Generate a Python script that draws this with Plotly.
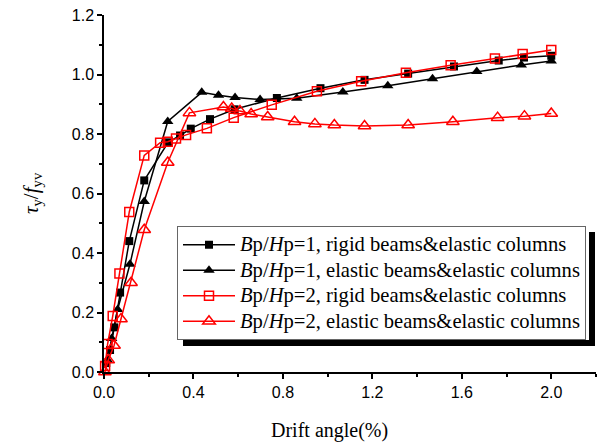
import plotly.graph_objects as go

# Bp/Hp=1, rigid beams & elastic columns (black filled squares)
x_sq1 = [0.01, 0.027, 0.046, 0.072, 0.113, 0.18, 0.287, 0.34, 0.388, 0.474, 0.584, 0.773, 0.968, 1.165, 1.36, 1.565, 1.765, 1.878, 2.0]
y_sq1 = [0.03, 0.074, 0.15, 0.267, 0.44, 0.644, 0.772, 0.795, 0.818, 0.85, 0.883, 0.921, 0.954, 0.982, 1.003, 1.027, 1.047, 1.057, 1.063]

# Bp/Hp=1, elastic beams & elastic columns (black filled triangles)
x_tr1 = [0.015, 0.034, 0.061, 0.116, 0.18, 0.285, 0.437, 0.512, 0.586, 0.698, 0.862, 1.068, 1.269, 1.469, 1.667, 1.866, 2.0]
y_tr1 = [0.04, 0.113, 0.21, 0.362, 0.573, 0.842, 0.94, 0.93, 0.923, 0.916, 0.92, 0.941, 0.962, 0.986, 1.01, 1.032, 1.045]

# Bp/Hp=2, rigid beams & elastic columns (red open squares)
x_sq2 = [0.005, 0.016, 0.039, 0.069, 0.113, 0.18, 0.251, 0.285, 0.322, 0.367, 0.46, 0.58, 0.75, 0.952, 1.15, 1.35, 1.55, 1.748, 1.872, 2.0]
y_sq2 = [0.02, 0.094, 0.188, 0.331, 0.538, 0.728, 0.771, 0.774, 0.785, 0.797, 0.819, 0.855, 0.898, 0.944, 0.977, 1.006, 1.031, 1.054, 1.069, 1.082]

# Bp/Hp=2, elastic beams & elastic columns (red open triangles)
x_tr2 = [0.004, 0.019, 0.045, 0.076, 0.121, 0.18, 0.285, 0.382, 0.534, 0.571, 0.608, 0.658, 0.732, 0.852, 0.943, 1.03, 1.165, 1.36, 1.56, 1.76, 1.88, 2.0]
y_tr2 = [0.0, 0.04, 0.089, 0.178, 0.30, 0.478, 0.704, 0.871, 0.891, 0.886, 0.877, 0.867, 0.857, 0.841, 0.834, 0.830, 0.827, 0.830, 0.841, 0.855, 0.860, 0.869]

legend_labels = [
    "<i>B</i>p/<i>H</i>p=1, rigid beams&elastic columns",
    "<i>B</i>p/<i>H</i>p=1, elastic beams&elastic columns",
    "<i>B</i>p/<i>H</i>p=2, rigid beams&elastic columns",
    "<i>B</i>p/<i>H</i>p=2, elastic beams&elastic columns",
]
names = ['<span style="font-size:20.6px">' + s + '</span>' for s in legend_labels]

RED = "#FF0000"
fig = go.Figure()
fig.add_trace(go.Scatter(x=x_sq1, y=y_sq1, name=names[0], mode="lines+markers",
                         line=dict(color="black", width=1.5),
                         marker=dict(symbol="square", size=8, color="black"), cliponaxis=False))
fig.add_trace(go.Scatter(x=x_tr1, y=y_tr1, name=names[1], mode="lines+markers",
                         line=dict(color="black", width=1.5),
                         marker=dict(symbol="triangle-up", size=10, color="black"), cliponaxis=False))
fig.add_trace(go.Scatter(x=x_sq2, y=y_sq2, name=names[2], mode="lines+markers",
                         line=dict(color=RED, width=1.5),
                         marker=dict(symbol="square-open", size=9, color=RED, line=dict(width=1.5)), cliponaxis=False))
fig.add_trace(go.Scatter(x=x_tr2, y=y_tr2, name=names[3], mode="lines+markers",
                         line=dict(color=RED, width=1.5),
                         marker=dict(symbol="triangle-up-open", size=11, color=RED, line=dict(width=1.5)), cliponaxis=False))

L, R, T, B = 104, 1, 15, 72
W, H = 597, 444
pw, ph = W - L - R, H - T - B

def px_x(p):
    return (p - L) / pw

def px_y(p):
    return (H - B - p) / ph

leg_l, leg_t = 177, 226
leg_r, leg_b = 589, 340
sh = 6
# drop shadow of the legend box: right strip and bottom strip
fig.add_shape(type="rect", xref="paper", yref="paper",
              x0=px_x(leg_r), x1=px_x(leg_r + sh), y0=px_y(leg_b + sh), y1=px_y(leg_t + sh),
              fillcolor="black", line=dict(width=0), layer="above")
fig.add_shape(type="rect", xref="paper", yref="paper",
              x0=px_x(leg_l + sh), x1=px_x(leg_r + sh), y0=px_y(leg_b + sh), y1=px_y(leg_b),
              fillcolor="black", line=dict(width=0), layer="above")

fig.update_layout(
    width=W, height=H,
    margin=dict(l=L, r=R, t=T, b=B),
    paper_bgcolor="white", plot_bgcolor="white",
    showlegend=True,
    legend=dict(x=px_x(leg_l), y=px_y(leg_t), xanchor="left", yanchor="top",
                bgcolor="white", bordercolor="#666666", borderwidth=1,
                font=dict(family="Liberation Serif", size=17.3, color="black"),
                itemwidth=52, tracegroupgap=0),
    font=dict(family="Liberation Sans", size=16, color="black"),
)

fig.update_xaxes(range=[0, 2.2], tick0=0, dtick=0.4, tickformat=".1f",
                 showline=True, linecolor="black", linewidth=1.5,
                 ticks="outside", ticklen=5, tickwidth=1.5, tickcolor="black",
                 minor=dict(dtick=0.2, ticks="outside", ticklen=3, tickwidth=1.5, tickcolor="black"),
                 showgrid=False, zeroline=False,
                 tickfont=dict(family="Liberation Sans", size=16, color="black"))
fig.update_yaxes(range=[0, 1.2], tick0=0, dtick=0.2, tickformat=".1f",
                 showline=True, linecolor="black", linewidth=1.5,
                 ticks="outside", ticklen=5, tickwidth=1.5, tickcolor="black",
                 minor=dict(dtick=0.1, ticks="outside", ticklen=3, tickwidth=1.5, tickcolor="black"),
                 showgrid=False, zeroline=False,
                 tickfont=dict(family="Liberation Sans", size=16, color="black"))

fig.add_annotation(text="Drift angle(%)", xref="paper", yref="paper",
                   x=px_x(329), y=px_y(430), xanchor="center", yanchor="middle",
                   showarrow=False, font=dict(family="Liberation Serif", size=20, color="black"))
fig.add_annotation(text="<i>τ</i><sub>y</sub>/<i>f</i><sub>yv</sub>", xref="paper", yref="paper",
                   x=px_x(32), y=px_y(193), xanchor="center", yanchor="middle", textangle=-90,
                   showarrow=False, font=dict(family="Liberation Serif", size=21, color="black"))

fig.write_html("out.html", config={"displayModeBar": False},
               post_script="document.body.style.margin='0px';document.body.style.padding='0px';")
